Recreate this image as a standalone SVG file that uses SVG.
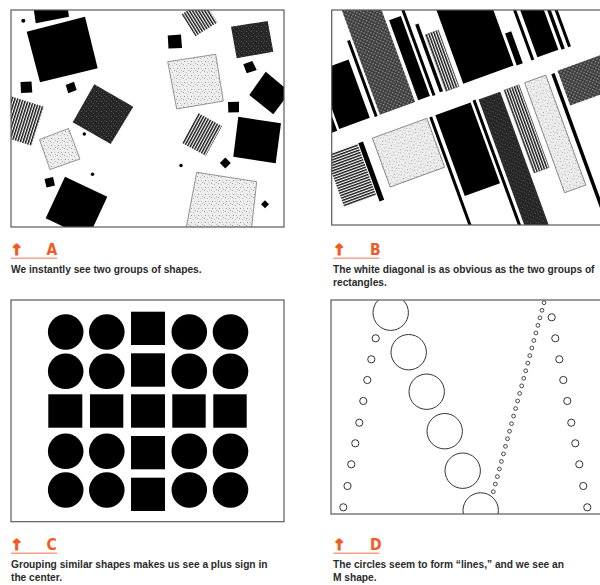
<svg xmlns="http://www.w3.org/2000/svg" width="600" height="585" viewBox="0 0 600 585">
<style>
.frame{fill:none;stroke:#5a5a5a;stroke-width:1.2}
.blk{fill:#000}
.lt{fill:url(#light);stroke:#7a7a7a;stroke-width:0.8}
.dk{fill:url(#dark)}
.sv{fill:url(#stripeV)}
.sh{fill:url(#stripeH)}
.hc{fill:url(#hatch)}
.oc{fill:none;stroke:#333;stroke-width:1}
.sc{fill:none;stroke:#333;stroke-width:0.9}
.cap{font-family:"Liberation Sans",Arial,sans-serif;font-weight:bold;font-size:10.2px;fill:#2a2a2a}
.arr{font-family:"DejaVu Sans",sans-serif;font-weight:bold;font-size:15px;fill:#f15a24;stroke:#f15a24;stroke-width:1.2}
.let{font-family:"DejaVu Sans","Liberation Sans",sans-serif;font-stretch:condensed;font-weight:bold;font-size:15.5px;fill:#f15a24}
.ul{stroke:#f6a58a;stroke-width:1.5}
</style>
<defs>
<pattern id="stripeV" width="2.6" height="10" patternUnits="userSpaceOnUse"><rect width="2.6" height="10" fill="#fff"/><rect width="1.4" height="10" fill="#111"/></pattern>
<pattern id="stripeH" width="10" height="2.6" patternUnits="userSpaceOnUse"><rect width="10" height="2.6" fill="#fff"/><rect width="10" height="1.4" fill="#111"/></pattern>
<pattern id="light" width="7" height="7" patternUnits="userSpaceOnUse"><rect width="7" height="7" fill="#ededed"/><rect x="1" y="1" width="1" height="1" fill="#a8a8a8"/><rect x="4" y="2" width="1" height="1" fill="#bbb"/><rect x="2" y="5" width="1" height="1" fill="#999"/><rect x="5" y="5" width="1" height="1" fill="#c4c4c4"/><rect x="6" y="0" width="1" height="1" fill="#b5b5b5"/></pattern>
<pattern id="dark" width="5" height="5" patternUnits="userSpaceOnUse"><rect width="5" height="5" fill="#262626"/><rect x="1" y="1" width="1" height="1" fill="#5e5e5e"/><rect x="3" y="3" width="1" height="1" fill="#505050"/><rect x="4" y="0" width="1" height="1" fill="#444"/></pattern>
<pattern id="hatch" width="3" height="3" patternUnits="userSpaceOnUse" patternTransform="rotate(45)"><rect width="3" height="3" fill="#3a3a3a"/><rect width="1.4" height="1.4" fill="#9a9a9a"/></pattern>
<clipPath id="clipA"><rect x="11" y="10" width="273" height="217"/></clipPath>
<clipPath id="clipB"><rect x="331.7" y="10" width="300" height="215"/></clipPath>
<clipPath id="clipD"><rect x="331" y="300" width="280" height="214"/></clipPath>
</defs>

<!-- Panel A -->
<g id="panelA">
<g clip-path="url(#clipA)">
<polygon class="blk" points="33,4 67,4 69,16.7 35.7,23.3"/>
<polygon class="blk" points="26.7,31.7 85,16.7 97.7,68.3 40,82.3"/>
<circle class="blk" cx="23.3" cy="20.7" r="2"/>
<polygon class="blk" points="20.5,82 31.5,81.5 32.3,92.5 21,93"/>
<polygon class="blk" points="65.7,85 74,81.7 76.7,90 68.3,93.3"/>
<polygon class="dk" points="94.3,84.3 133.3,106.7 110.7,144 72.7,122.3"/>
<rect class="sv" x="-20.5" y="-20.5" width="41" height="41" transform="translate(18.4,120) rotate(17.6)"/>
<polygon class="lt" points="39.5,139.5 68.5,128.5 80,159 50,169.5"/>
<circle class="blk" cx="84.3" cy="134" r="1.7"/>
<circle class="blk" cx="92.5" cy="174.3" r="1.7"/>
<polygon class="blk" points="44.5,179 53,177 55,185.5 46.5,187.5"/>
<polygon class="blk" points="65,176.7 107.3,196.7 88,238.3 45.7,218.3"/>
<rect class="sv" x="-13" y="-13" width="26" height="26" transform="translate(199.5,18.35) rotate(-32)"/>
<polygon class="blk" points="167.7,35.5 181,34.5 182,48 168.5,48.5"/>
<polygon class="dk" points="231,26.7 267.7,21 273.3,51.7 236.7,58.3"/>
<polygon class="blk" points="243.3,64.3 252.3,61 256.7,70 246.7,73.3"/>
<polygon class="lt" points="167.7,61.7 215.7,54.3 223.3,101 176.7,109"/>
<polygon class="blk" points="265.7,71.7 290,92 273.3,114.3 249.3,95"/>
<polygon class="blk" points="228,102 239,101.7 239,112.3 228.3,112.5"/>
<rect class="sv" x="-13.5" y="-17" width="27" height="34" transform="translate(202,134.4) rotate(28.5)"/>
<polygon class="blk" points="238.3,116.7 281,123.3 275.7,163.3 233.3,156.7"/>
<polygon class="blk" points="225.3,157.5 230.8,163 225.3,168.5 219.8,163"/>
<circle class="blk" cx="181" cy="165.5" r="1.7"/>
<polygon class="lt" points="196.7,172.3 256.7,181.7 251.1,232 185.4,232"/>
<polygon class="blk" points="265,200.3 269,204.3 265,208.3 261,204.3"/>
</g>
<rect class="frame" x="11" y="10" width="273" height="217"/>
</g>

<!-- Panel B -->
<g id="panelB">
<g clip-path="url(#clipB)">
<g transform="translate(338.3,129.3) rotate(-20)">
<rect class="blk" x="-8" y="-60" width="6.5" height="61"/>
<rect class="blk" x="1" y="-62" width="32.5" height="62"/>
<rect class="blk" x="38.5" y="-80" width="3" height="81"/>
<rect class="hc" x="44" y="-200" width="37.5" height="200.6"/>
<rect class="blk" x="85" y="-85" width="12.5" height="85"/>
<rect class="blk" x="100" y="-200" width="3" height="201"/>
<rect class="blk" x="108" y="-72" width="3.5" height="72"/>
<rect class="sv" x="114" y="-59" width="14" height="60" stroke="#555" stroke-width="0.5"/>
<rect class="blk" x="133" y="-200" width="53.5" height="200"/>
<rect class="blk" x="189.5" y="-33" width="6.5" height="34"/>
<rect class="blk" x="205" y="-200" width="3" height="201.5"/>
<rect class="blk" x="211.7" y="-200" width="22.3" height="200.5"/>
<rect class="blk" x="237" y="-200" width="3.5" height="201.5"/>
<rect class="blk" x="244" y="-200" width="3" height="201.5"/>
<rect class="sh" x="-21" y="20" width="34" height="55"/>
<rect class="blk" x="14" y="20" width="5" height="62"/>
<rect class="lt" x="29" y="20" width="58" height="52"/>
<rect class="blk" x="89.5" y="20" width="3" height="230"/>
<rect class="blk" x="96" y="20" width="37.5" height="86"/>
<rect class="blk" x="136" y="19" width="3" height="231"/>
<rect class="dk" x="142" y="20" width="23" height="230"/>
<rect class="sv" x="169" y="20" width="16" height="88" stroke="#555" stroke-width="0.5"/>
<rect class="lt" x="191" y="20" width="22.5" height="117"/>
<rect class="blk" x="219" y="21" width="3.5" height="229"/>
<rect class="hc" x="226" y="20" width="94" height="37"/>
</g>
</g>
<rect class="frame" x="331.7" y="10" width="300" height="215"/>
</g>

<!-- Panel C -->
<g id="panelC">
<rect class="frame" x="11" y="300" width="273" height="221.7"/>
<g class="blk">
<circle cx="65.7" cy="332" r="17.8"/><circle cx="106.8" cy="332" r="17.8"/><rect x="131" y="311.7" width="34" height="33.3"/><circle cx="189.3" cy="332" r="17.8"/><circle cx="230.5" cy="332" r="17.8"/>
<circle cx="65.7" cy="371.3" r="17.8"/><circle cx="106.8" cy="371.3" r="17.8"/><rect x="131" y="353.3" width="34" height="33.4"/><circle cx="189.3" cy="371.3" r="17.8"/><circle cx="230.5" cy="371.3" r="17.8"/>
<rect x="48.3" y="394.3" width="34" height="33.4"/><rect x="90" y="394.3" width="33.3" height="33.4"/><rect x="131" y="394.3" width="34" height="33.4"/><rect x="172.3" y="394.3" width="33.4" height="33.4"/><rect x="213.3" y="394.3" width="33.4" height="33.4"/>
<circle cx="65.7" cy="451.3" r="17.8"/><circle cx="106.8" cy="451.3" r="17.8"/><rect x="131" y="436" width="34" height="33.3"/><circle cx="189.3" cy="451.3" r="17.8"/><circle cx="230.5" cy="451.3" r="17.8"/>
<circle cx="65.7" cy="490" r="17.8"/><circle cx="106.8" cy="490" r="17.8"/><rect x="131" y="477.7" width="34" height="33.3"/><circle cx="189.3" cy="490" r="17.8"/><circle cx="230.5" cy="490" r="17.8"/>
</g>
</g>

<!-- Panel D -->
<g id="panelD">
<g clip-path="url(#clipD)">
<g class="oc">
<circle cx="390.7" cy="312.7" r="17.7"/><circle cx="408.7" cy="352.2" r="17.7"/><circle cx="426.7" cy="391.7" r="17.7"/><circle cx="444.7" cy="431.2" r="17.7"/><circle cx="462.7" cy="470.7" r="17.7"/><circle cx="480.7" cy="510.5" r="17.7"/>
</g>
<g class="oc">
<circle cx="375.7" cy="338.3" r="3.6"/><circle cx="371.3" cy="359.3" r="3.6"/><circle cx="367.3" cy="380" r="3.6"/><circle cx="363.3" cy="401" r="3.6"/><circle cx="359.3" cy="422.7" r="3.6"/><circle cx="355.3" cy="443.3" r="3.6"/><circle cx="351.3" cy="464.3" r="3.6"/><circle cx="347.5" cy="486" r="3.6"/><circle cx="343.3" cy="507.3" r="3.6"/>
<circle cx="551.7" cy="317.3" r="3.6"/><circle cx="555.3" cy="338.3" r="3.6"/><circle cx="559.3" cy="359.3" r="3.6"/><circle cx="563.3" cy="380" r="3.6"/><circle cx="567.3" cy="401" r="3.6"/><circle cx="571.3" cy="422.7" r="3.6"/><circle cx="575.3" cy="443.3" r="3.6"/><circle cx="579.3" cy="464.3" r="3.6"/><circle cx="583.3" cy="486" r="3.6"/><circle cx="587.3" cy="507.3" r="3.6"/>
</g>
<g class="sc">
<circle cx="544" cy="302.7" r="1.9"/><circle cx="541.97" cy="310.26" r="1.9"/><circle cx="539.94" cy="317.82" r="1.9"/><circle cx="537.92" cy="325.38" r="1.9"/><circle cx="535.89" cy="332.94" r="1.9"/><circle cx="533.86" cy="340.5" r="1.9"/><circle cx="531.83" cy="348.06" r="1.9"/><circle cx="529.8" cy="355.62" r="1.9"/><circle cx="527.78" cy="363.18" r="1.9"/><circle cx="525.75" cy="370.74" r="1.9"/><circle cx="523.72" cy="378.3" r="1.9"/><circle cx="521.69" cy="385.86" r="1.9"/><circle cx="519.66" cy="393.42" r="1.9"/><circle cx="517.64" cy="400.98" r="1.9"/><circle cx="515.61" cy="408.54" r="1.9"/><circle cx="513.58" cy="416.1" r="1.9"/><circle cx="511.55" cy="423.66" r="1.9"/><circle cx="509.52" cy="431.22" r="1.9"/><circle cx="507.5" cy="438.78" r="1.9"/><circle cx="505.47" cy="446.34" r="1.9"/><circle cx="503.44" cy="453.9" r="1.9"/><circle cx="501.41" cy="461.46" r="1.9"/><circle cx="499.38" cy="469.02" r="1.9"/><circle cx="497.36" cy="476.58" r="1.9"/><circle cx="495.33" cy="484.14" r="1.9"/><circle cx="493.3" cy="491.7" r="1.9"/>
</g>
</g>
<rect class="frame" x="331" y="300" width="280" height="214"/>
</g>

<!-- Labels -->
<g id="labelA">
<text class="arr" x="10.5" y="255">↑</text><text class="let" x="46.5" y="255">A</text>
<line class="ul" x1="11" y1="258.3" x2="57" y2="258.3"/>
<text class="cap" x="11" y="273">We instantly see two groups of shapes.</text>
</g>
<g id="labelB">
<text class="arr" x="333" y="255">↑</text><text class="let" x="370" y="255">B</text>
<line class="ul" x1="333.3" y1="258.3" x2="379.3" y2="258.3"/>
<text class="cap" x="333" y="273">The white diagonal is as obvious as the two groups of</text>
<text class="cap" x="333" y="286.3">rectangles.</text>
</g>
<g id="labelC">
<text class="arr" x="10.5" y="550">↑</text><text class="let" x="46.5" y="550">C</text>
<line class="ul" x1="11" y1="553.3" x2="57" y2="553.3"/>
<text class="cap" x="11" y="568">Grouping similar shapes makes us see a plus sign in</text>
<text class="cap" x="11" y="581">the center.</text>
</g>
<g id="labelD">
<text class="arr" x="333" y="550">↑</text><text class="let" x="370" y="550">D</text>
<line class="ul" x1="333.3" y1="553.3" x2="379.3" y2="553.3"/>
<text class="cap" x="333" y="568">The circles seem to form “lines,” and we see an</text>
<text class="cap" x="333" y="581">M shape.</text>
</g>
</svg>
